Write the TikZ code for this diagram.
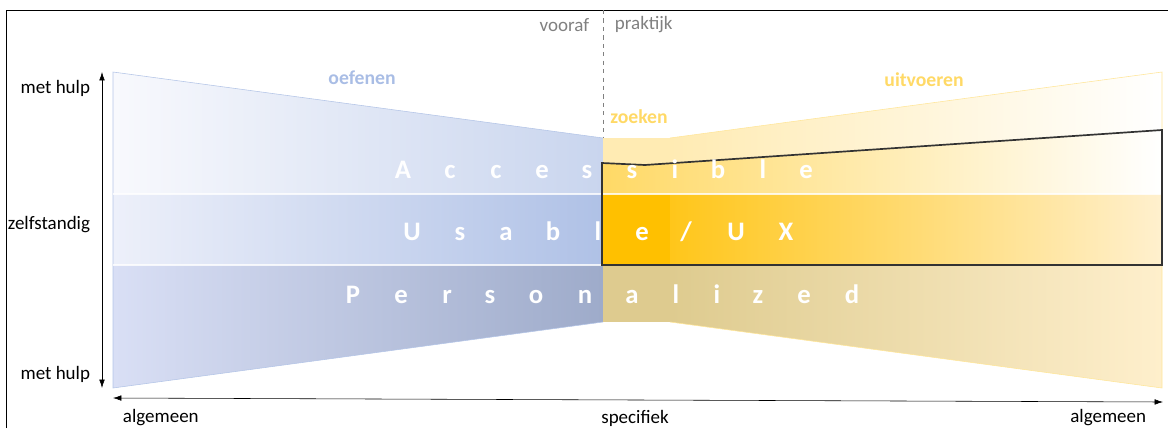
\documentclass[tikz,border=0pt]{standalone}
\usepackage{fontspec}
\setmainfont{Carlito}
\usetikzlibrary{arrows.meta}

\definecolor{blueTopL}{HTML}{F8F9FD}
\definecolor{blueTopR}{HTML}{C9D5EE}
\definecolor{blueMidL}{HTML}{EDF0FA}
\definecolor{blueMidR}{HTML}{AFC1E6}
\definecolor{blueBotL}{HTML}{D9DFF5}
\definecolor{blueBotR}{HTML}{9EABCA}
\definecolor{blueEdge}{HTML}{B4C5E7}
\definecolor{blueLabel}{HTML}{A9BDE5}
\definecolor{yelTop}{HTML}{FFEBB3}
\definecolor{yelHigh}{HTML}{FFD966}
\definecolor{yelMid}{HTML}{FFC000}
\definecolor{yelMidL}{HTML}{FFC61A}
\definecolor{yelMidR}{HTML}{FFF0CE}
\definecolor{yelBot}{HTML}{DECB8F}
\definecolor{yelBotR}{HTML}{FEEFCC}
\definecolor{yelEdge}{HTML}{FFE699}
\definecolor{yelLabel}{HTML}{FFD966}
\definecolor{phaseGray}{HTML}{808080}
\definecolor{frameGray}{HTML}{333333}

\begin{document}
\begin{tikzpicture}[x=0.025cm,y=-0.025cm,
  axislabel/.style={rectangle, draw=none, font=\fontsize{13.5}{16}\selectfont},
  phaselabel/.style={rectangle, draw=none, text=phaseGray, font=\fontsize{13.5}{16}\selectfont},
  stagelabel/.style={rectangle, draw=none, font=\fontsize{14}{16}\selectfont\bfseries},
  bandletter/.style={rectangle, draw=none, anchor=base, text=white, font=\fontsize{19}{22}\selectfont\bfseries},
  axisarrow/.style={{Latex[length=6pt,width=4pt]}-{Latex[length=6pt,width=4pt]}, thin}]
\useasboundingbox (0,0) rectangle (1168,428);
\draw[line width=0.7pt] (6,428) -- (6,10) -- (1168,10);

%%%%%%%%%%%%%%%%%%%%%%%%%%%%%%% oefenen (links, blauw)
\shade[left color=blueTopL, right color=blueTopR] (113,72) -- (603,138) -- (603,194) -- (113,194) -- cycle;
\shade[left color=blueMidL, right color=blueMidR] (113,194) rectangle (603,265);
\shade[left color=blueBotL, right color=blueBotR] (113,265) -- (603,265) -- (603,322) -- (113,388) -- cycle;
\draw[blueEdge, thin] (603,138) -- (113,72) -- (113,388) -- (603,322);

%%%%%%%%%%%%%%%%%%%%%%%%%%%%%%% zoeken en uitvoeren (rechts, geel)
\fill[yelTop] (603,138) rectangle (670,194);
\fill[yelMid] (603,194) rectangle (670,265);
\fill[yelBot] (603,265) rectangle (670,322);
\shade[left color=yelTop, right color=white] (670,138) -- (1162,72) -- (1162,194) -- (670,194) -- cycle;
\shade[left color=yelMidL, right color=yelMidR] (670,194) rectangle (1162,265);
\shade[left color=yelBot, right color=yelBotR] (670,265) -- (1162,265) -- (1162,388) -- (670,322) -- cycle;
\shade[left color=yelHigh, right color=white] (603,163) -- (645,165) -- (1162,130) -- (1162,194) -- (603,194) -- cycle;
\draw[yelEdge, thin] (670,138) -- (1162,72) -- (1162,388) -- (670,322);

% scheidingslijnen tussen de banden
\draw[white, line width=0.8pt, opacity=0.8] (113,194) -- (1162,194);
\draw[white, line width=0.8pt, opacity=0.8] (113,265) -- (1162,265);

% kader rond het praktijkdeel
\draw[frameGray, line width=1.2pt] (602,163) -- (645,165) -- (1162,130) -- (1162,265) -- (602,265) -- cycle;

% scheiding vooraf / praktijk
\draw[phaseGray, dashed, thin] (603,10) -- (603,138);
\node[phaselabel, anchor=east](vooraf) at (594,25){vooraf};
\node[phaselabel, anchor=west](praktijk) at (610,25){praktijk};

\node[stagelabel, text=blueLabel](oefenen) at (362,78){oefenen};
\node[stagelabel, text=yelLabel](zoeken) at (639,117){zoeken};
\node[stagelabel, text=yelLabel](uitvoeren) at (924,80){uitvoeren};

%%%%%%%%%%%%%%%%%%%%%%%%%%%%%%% letters in de banden
\def\slashch{/}
\foreach \x/\ch [count=\i] in {403/A, 450/c, 496/c, 542/e, 587/s, 632/s, 675/i, 718/b, 763/l, 806/e}
  \node[bandletter](acc\i) at (\x,178){\ch};
\foreach \x/\ch [count=\i] in {412/U, 460/s, 506/a, 553/b, 598/l, 642/e, 686/\slashch, 736/U, 786/X}
  \node[bandletter](usa\i) at (\x,240){\ch};
\foreach \x/\ch [count=\i] in {353/P, 401/e, 447/r, 490/s, 536/o, 585/n, 632/a, 676/l, 717/i, 758/z, 804/e, 852/d}
  \node[bandletter](per\i) at (\x,303){\ch};

%%%%%%%%%%%%%%%%%%%%%%%%%%%%%%% assen
\coordinate (vTop) at (102,72);
\coordinate (vBot) at (102,388);
\draw[axisarrow] (vTop) -- (vBot);
\node[axislabel, anchor=east](hulpTop) at (95,88){met hulp};
\node[axislabel, anchor=east](zelf) at (95,225){zelfstandig};
\node[axislabel, anchor=east](hulpBot) at (95,374){met hulp};

\coordinate (hLeft) at (113,398);
\coordinate (hRight) at (1163,402);
\draw[axisarrow] (hLeft) -- (hRight);
\node[axislabel, anchor=west](algLeft) at (118,418){algemeen};
\node[axislabel](spec) at (635,418){specifiek};
\node[axislabel, anchor=east](algRight) at (1151,418){algemeen};

\end{tikzpicture}
\end{document}
